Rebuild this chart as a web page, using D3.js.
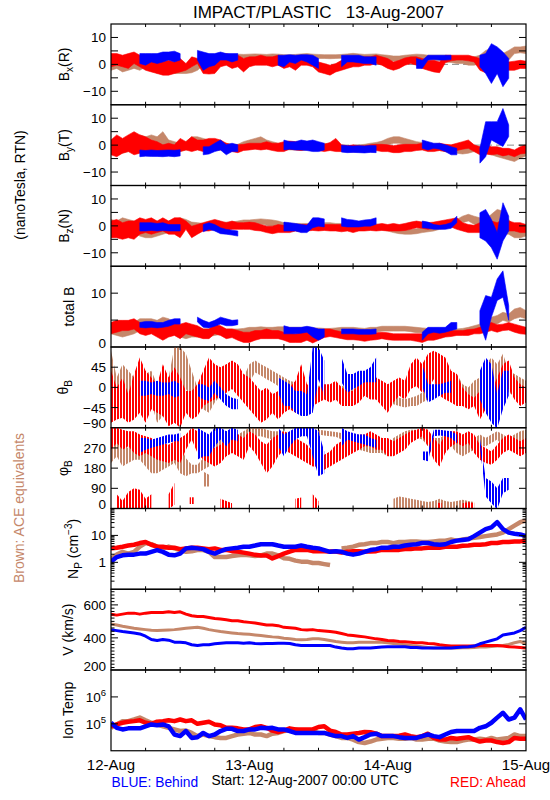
<!DOCTYPE html>
<html><head><meta charset="utf-8">
<script src="https://cdn.jsdelivr.net/npm/d3@7"></script>
<style>
body{margin:0;background:#fff;}
svg{display:block;font-family:"Liberation Sans",Arial,sans-serif;}
</style>
</head><body>
<svg id="c" width="550" height="800"></svg>
<script>
const n = null;
// ---------- axis text ----------
const titleText = "IMPACT/PLASTIC   13-Aug-2007";
const dayLabels = ["12-Aug","13-Aug","14-Aug","15-Aug"];
const footLeft = "BLUE: Behind", footMid = "Start: 12-Aug-2007 00:00 UTC", footRight = "RED: Ahead";
const unitLabel = "(nanoTesla, RTN)", aceLabel = "Brown: ACE equivalents";
const bTicks = [-10,-5,0,5,10], bLabels = [-10,0,10];
const btTicks = [5,10], btLabels = [0,10];
const thTicks = [-45,0,45], thLabels = [-90,-45,0,45];
const phTicks = [90,180,270], phLabels = [0,90,180,270];
const npTicks = [1,10], npLabels = [1,10];
const vTicks = [400,600], vLabels = [200,400,600];
const tTicks = [1e5,1e6], tLabels = [1e5,1e6];

// ---------- data, hourly samples from 12-Aug-2007 00:00 UTC (73 per series) ----------
// Bx (nT): hi / lo envelope
const bxRedHi=[3.7,3.7,3.1,3.7,4.3,3.1,2.5,1.9,1.2,0.6, 1.2,0.6,1.9,0,2.5,1.9,0,-0.6,0.6,3.1, 3.7,3.1,3.1,1.9,2.5,2.5,3.1,2.5,2.5,3.1, 1.9,2.5,1.9,3.1,2.5,1.9,0.6,0,-0.6,0, 1.2,1.9,1.9,1.9,2.5,2.5,3.1,2.5,1.9,0.6, 1.2,2.1,2.5,2.5,1.9,1.2,1.2,0.6,3.1,3.1, 3.1,3.1,3.1,2.5,1.9,0.6,0,0,1.2,0.6, 0.9,1.2,0.9];
const bxRedLo=[-0.6,0,-0.6,-1.2,0.6,-0.6,-1.9,-2.5,-3.1,-3.7, -3.7,-3.1,-2.5,-1.9,-0.6,0.6,-3.1,-3.3,-3.1,-0.6, 0,-1.2,-0.6,-2.5,-0.6,0,0,0,-0.6,0, -1.2,-0.6,-1.9,0,0,-0.6,-2.5,-3.1,-3.7,-2.5, -1.9,-1.2,-0.6,-0.6,0,0,0.6,0,-1.2,-1.9, -1.2,0,0.6,0,-1.2,-1.9,-2.5,-2.8,0.9,1.6, 1.9,1.9,1.6,1.2,-1.9,-2.8,-3.7,-3.1,-2.5,-1.9, -1.9,-1.2,-1.2];
const bxBlueHi=[n,n,n,n,n,3.7,3.7,3.7,3.7,4.3, 4.3,4.6,3.7,n,n,4.9,4.3,3.7,3.7,4.3, 3.7,3.7,3.7,n,n,n,n,n,n,3.1, 3.1,3.3,3.1,3.3,3.3,3.1,1.9,n,n,n, 3.1,3.1,3.1,3.1,2.5,2.5,2.5,n,n,n, n,n,n,1.9,1.2,3.1,3.1,3.1,3.1,3.1, n,n,n,n,3.1,3.7,7.4,6.2,4.3,1.9, n,n,n];
const bxBlueLo=[n,n,n,n,n,0.6,0,1.2,0.6,1.2, 1.9,1.2,1.9,n,n,1.9,-1.9,-0.6,0,1.9, 1.9,1.2,1.9,n,n,n,n,n,n,0, -0.6,1.2,0.6,1.9,1.2,0,-1.2,n,n,n, -0.6,1.2,1.2,0.9,0.6,0.6,0,n,n,n, n,n,n,-1.2,-1.2,1.9,2.1,1.9,1.9,2.1, n,n,n,n,-0.6,-3.1,-6.8,-3.1,-8.0,-4.9, n,n,n];
const bxBrownHi=[1.2,1.9,1.2,1.9,2.5,1.9,2.5,1.9,1.2,1.9, 0.6,0,-0.6,-1.2,-1.2,0.6,3.1,3.1,3.3,3.3, 3.4,3.3,3.5,3.4,3.5,3.6,3.5,3.4,3.6,3.5, 3.3,3.3,3.4,3.6,3.7,3.5,3.4,3.3,3.3,3.3, 3.4,3.6,3.8,3.6,3.4,3.5,3.6,3.3,3.1,2.8, 2.8,3.1,3.3,3.5,3.4,3.1,3.1,3.1,3.1,2.8, 2.5,2.5,1.9,2.5,3.1,4.9,5.6,5.6,3.7,4.9, 6.2,6.2,6.5];
const bxBrownLo=[-1.9,-1.2,-2.5,-1.9,-1.2,-1.9,-0.6,-1.2,-3.1,-1.9, -2.5,-3.1,-3.1,-3.1,-2.8,-1.9,0,1.9,2.1,2.3, 2.5,2.5,2.6,2.6,2.7,2.7,2.6,2.5,2.7,2.6, 2.5,2.4,2.5,2.6,2.7,2.6,2.5,2.5,2.4,2.5, 2.6,2.7,2.8,2.6,2.5,2.6,2.6,2.3,1.9,1.5, 1.6,2.1,2.3,2.5,2.4,2.1,1.9,1.6,1.2,1.0, 0.6,0.6,0,0,0.6,1.9,1.2,0.6,0,1.9, 4.3,4.6,4.3];
// By (nT)
const byRedHi=[1.6,3.5,2.2,3.5,4.7,3.5,2.8,1.6,1.0,-0.2, 0.4,-0.2,2.2,1.0,2.8,1.6,1.6,2.2,2.2,1.6, 0.4,-0.2,-0.2,0,0.4,0.4,0.4,1.0,0.4,0.4, 1.0,1.2,1.0,1.0,0.7,0.7,0.4,0,0.7,2.2, -0.2,-0.5,-0.2,-0.5,-0.5,-0.2,0,0,-0.2,-0.5, -0.2,0,0,0,0.4,0.4,0,0.4,0,-0.2, 0.4,1.0,1.6,-0.2,-0.9,-0.2,-0.9,-0.9,-1.5,-1.5, -2.1,-0.9,-0.2];
const byRedLo=[-3.3,-4.0,-2.7,-2.1,-3.3,-2.7,-2.1,-2.7,-2.1,-2.7, -2.7,-2.7,-2.1,-1.5,-2.1,-1.5,-2.1,-2.1,-1.5,-1.5, -2.1,-2.1,-2.5,-1.7,-1.5,-1.2,-1.5,-1.2,-1.7,-2.1, -2.1,-1.2,-1.5,-1.7,-1.2,-1.5,-1.7,-2.1,-1.7,-2.1, -2.1,-2.1,-2.2,-2.1,-2.1,-2.1,-1.7,-2.1,-2.1,-2.5, -2.5,-2.1,-2.1,-1.7,-1.5,-2.1,-2.1,-1.7,-2.1,-2.5, -1.7,-1.2,-0.9,-2.1,-3.3,-3.0,-3.3,-3.0,-3.7,-3.3, -4.0,-3.0,-2.7];
const byBlueHi=[n,n,n,n,n,-2.1,-2.3,-2.1,-2.3,-2.2, -2.1,-2.2,-2.0,n,n,n,-0.9,-0.9,0.4,1.6, -0.2,0.4,-0.2,n,n,n,n,n,n,n, 1.6,1.0,1.0,1.6,1.2,1.6,1.0,0.4,n,n, -0.3,-0.5,-0.6,-0.5,-0.6,-0.4,-0.5,n,n,n, n,n,n,n,1.6,1.0,0.4,0.4,-0.2,-0.9, -1.5,n,n,n,-1.5,8.4,8.4,8.4,13.3,7.2, n,n,n];
const byBlueLo=[n,n,n,n,n,-4.0,-3.8,-3.9,-3.9,-4.0, -3.8,-4.0,-3.7,n,n,n,-3.3,-3.0,-2.1,-1.5, -3.3,-2.1,-2.1,n,n,n,n,n,n,n, -1.5,-1.2,-1.5,-1.5,-1.7,-2.1,-2.1,-1.5,n,n, -2.3,-2.5,-2.4,-2.5,-2.6,-2.4,-2.5,n,n,n, n,n,n,n,-0.9,-1.5,-0.9,-1.2,-2.1,-3.3, -3.3,n,n,n,-6.4,-4.0,2.2,1.0,-0.2,3.5, n,n,n];
const byBrownHi=[-0.2,0.4,1.6,2.2,2.8,3.5,2.8,3.5,2.8,4.7, 1.6,1.0,0.4,1.0,2.8,2.8,2.2,1.6,1.0,0.4, 0.4,0,0,1.0,1.6,2.2,2.8,1.6,1.0,0.4, 0.4,0,0,-0.2,0,0,-0.2,0.4,0,-0.2, -0.5,-0.5,-0.5,-0.2,0,0.4,0.7,1.2,2.2,2.8, 2.8,2.2,1.6,1.0,0.7,0.4,0,-0.2,-0.5,-0.9, -1.2,-1.5,-1.2,-0.9,-0.9,-1.2,-1.5,-2.1,-2.7,-3.3, -2.7,-2.1,-1.5];
const byBrownLo=[-3.3,-2.7,-2.7,-2.1,-2.1,-1.5,-2.1,-0.9,-1.5,-1.5, -2.1,-2.1,-2.1,-1.5,-0.9,-0.2,-0.5,-0.9,-1.5,-1.5, -1.2,-1.5,-1.2,-0.9,-0.5,0,0.4,-0.5,-0.9,-1.2, -1.2,-1.5,-1.5,-1.7,-1.5,-1.5,-1.7,-1.5,-1.5,-1.7, -2.0,-2.0,-2.0,-1.5,-1.2,-1.2,-0.9,-0.5,0.4,1.0, 1.0,0.4,-0.2,-0.5,-0.9,-1.2,-1.5,-1.7,-2.1,-2.5, -2.7,-3.0,-2.7,-2.1,-2.5,-2.7,-3.3,-4.0,-4.6,-5.2, -5.8,-4.6,-3.7];
// Bz (nT)
const bzRedHi=[1.5,2.1,0.9,1.5,1.5,2.7,2.1,2.7,1.5,2.7, 1.5,2.7,2.7,1.5,-0.4,0.2,0.9,1.5,2.1,1.5, 0.9,1.5,0.9,0.9,1.1,0.9,0.2,-0.4,-0.4,0.2, -0.1,0.2,0.2,0.2,0.2,0.9,0.2,0.2,0.2,0.2, 0.2,0.2,-0.1,0.2,0.2,0.6,0.2,0.6,0.2,0.6, 0.2,0.6,1.1,1.5,1.1,0.9,1.1,1.5,1.9,2.3, 2.7,0.9,0.2,-0.1,0.9,1.5,1.5,0.9,2.1,1.5, 0.9,0.9,0.2];
const bzRedLo=[-4.1,-4.1,-4.7,-4.1,-4.7,-2.8,-2.2,-2.8,-2.2,-1.6, -2.8,-2.8,-4.1,-1.0,-4.1,-2.8,-1.6,-1.6,-1.0,-1.0, -1.6,-1.0,-1.0,-1.0,-1.0,-1.4,-1.6,-2.2,-2.6,-2.2, -2.2,-2.2,-1.6,-1.9,-1.6,-1.4,-1.6,-1.4,-1.6,-1.6, -1.9,-1.6,-2.2,-1.6,-1.6,-1.4,-1.6,-1.4,-1.6,-1.6, -1.6,-1.4,-1.0,-0.4,-0.6,-1.0,-0.6,-0.4,-0.1,-0.1, -1.0,-1.6,-2.2,-2.2,-2.2,-2.2,-1.6,-2.2,-1.0,-1.6, -1.6,-2.2,-2.2];
const bzBlueHi=[n,n,n,n,n,0.9,0.9,0.9,0.6,0.9, 0.2,0.2,0.2,n,n,n,0.2,0.9,0.2,-1.0, -1.6,-1.9,-2.2,n,n,n,n,n,n,n, 1.1,0.9,0.6,0.2,-0.1,2.7,2.7,2.3,n,n, 2.7,2.1,1.9,1.5,1.9,2.1,2.7,n,n,n, n,n,n,n,1.5,1.1,0.2,-0.1,0.2,0.9, 3.3,n,n,n,4.6,5.8,2.1,-2.8,8.3,3.3, n,n,n];
const bzBlueLo=[n,n,n,n,n,-1.6,-1.6,-1.4,-1.6,-1.4, -1.6,-1.6,-1.6,n,n,n,-1.9,-1.0,-1.6,-2.6, -2.8,-3.1,-3.5,n,n,n,n,n,n,n, -1.6,-1.6,-1.6,-2.2,-2.2,-0.4,0.2,-0.1,n,n, 0.2,-0.1,-0.1,-0.1,0.2,0.2,0.9,n,n,n, n,n,n,n,-0.4,-0.6,-1.0,-1.0,-1.0,-0.6, 1.5,n,n,n,-4.1,-5.3,-7.8,-12.1,-5.3,-1.6, n,n,n];
const bzBrownHi=[2.1,1.5,2.7,2.1,1.5,0.2,-0.4,-1.0,-0.4,0.2, 1.5,2.1,2.7,2.1,1.1,0.9,0.6,0.9,0.9,0.9, 1.1,1.1,1.5,1.9,1.9,2.1,2.3,2.1,1.9,1.5, 0.9,0.6,0.6,0.6,0.6,0.6,0.6,0.9,0.9,0.6, 0.6,0.6,0.6,0.6,0.6,0.6,0.4,0.2,-0.4,-1.0, -1.4,-1.6,-1.6,-1.4,-1.0,-0.4,-0.1,0.2,0.9,1.5, 2.1,3.3,4.0,3.3,2.7,2.1,4.0,5.8,5.2,2.1, -0.4,-1.6,-0.4];
const bzBrownLo=[-2.8,-2.8,-1.6,-1.6,-2.2,-3.5,-4.1,-4.1,-3.5,-2.8, -2.2,-1.6,0.2,-0.4,-1.0,-1.4,-1.4,-1.0,-1.0,-0.6, -0.4,-0.1,-0.1,0.2,0.2,0.6,0.9,0.6,0.2,-0.1, -0.4,-0.6,-0.6,-0.6,-0.6,-0.6,-0.6,-0.4,-0.4,-0.6, -0.6,-0.6,-0.6,-0.6,-0.6,-0.7,-1.0,-1.1,-1.6,-2.2, -2.6,-2.8,-2.8,-2.6,-2.2,-1.9,-1.6,-1.0,-0.6,-0.1, 0.2,1.5,2.1,0.9,-0.4,-1.6,-1.6,-0.4,-2.8,-2.8, -4.1,-4.1,-3.5];
// total B (nT)
const btRedHi=[4.4,4.8,4.8,4.8,5.1,4.4,4.1,4.4,4.1,3.8, 4.4,4.4,4.1,4.4,4.1,3.8,3.2,3.2,4.1,3.8, 3.2,3.2,2.9,2.6,2.6,2.9,2.9,3.2,2.9,2.9, 2.6,2.6,2.3,2.6,2.6,2.3,2.6,3.2,3.2,2.9, 2.7,2.6,2.6,2.5,2.3,2.3,2.5,2.6,2.5,2.3, 2.3,2.3,2.3,2.3,2.3,2.6,2.7,2.7,2.7,2.9, 2.9,2.9,3.1,3.2,3.5,4.1,4.4,4.0,4.1,4.4, 4.1,3.8,3.5];
const btRedLo=[2.6,2.9,3.2,3.2,3.5,2.6,2.3,2.6,2.0,1.4, 2.0,2.3,1.7,2.6,2.3,2.0,1.7,1.7,2.6,2.3, 1.7,1.9,1.4,1.0,1.0,1.4,1.7,1.7,1.7,1.7, 1.4,1.0,1.0,1.0,1.4,0.9,1.4,1.9,2.1,1.9, 1.7,1.5,1.5,1.4,1.2,1.4,1.5,1.7,1.5,1.4, 1.4,1.4,1.4,1.2,1.0,1.4,1.4,1.7,2.0,2.1, 2.3,2.3,2.3,2.6,2.6,2.9,3.2,2.9,3.2,3.3, 2.9,2.6,2.5];
const btBlueHi=[n,n,n,n,n,4.4,4.6,4.6,4.4,4.4, 4.8,5.1,5.1,n,n,5.4,4.8,4.4,4.8,5.4, 5.1,4.8,4.9,n,n,n,n,n,n,n, 3.8,3.5,3.5,3.5,3.7,3.5,3.2,3.2,n,n, 3.2,3.2,3.2,3.1,3.1,3.1,3.2,n,n,n, n,n,n,n,2.6,3.5,3.5,3.5,3.5,4.4, 4.4,n,n,n,6.6,9.4,9.1,12.5,14.0,7.5, n,n,n];
const btBlueLo=[n,n,n,n,n,3.8,3.7,3.8,3.7,3.8, 4.0,4.4,4.4,n,n,4.8,3.8,3.7,4.0,4.4, 4.1,4.1,4.3,n,n,n,n,n,n,n, 2.6,2.6,2.6,2.7,2.9,2.0,1.4,2.0,n,n, 2.6,2.6,2.6,2.5,2.5,2.5,2.6,n,n,n, n,n,n,n,1.4,2.6,2.9,2.7,2.9,3.2, 3.5,n,n,n,4.4,1.4,5.7,8.8,9.4,5.1, n,n,n];
const btBrownHi=[4.4,3.8,3.8,4.4,4.4,5.1,5.1,5.1,4.8,5.4, 5.1,4.4,3.8,3.2,3.2,3.5,3.2,3.2,3.2,3.3, 3.2,3.2,3.2,3.3,3.5,3.5,3.6,3.5,3.5,3.6, 3.6,3.5,3.5,3.5,3.5,3.4,3.4,3.3,3.3,3.4, 3.5,3.5,3.5,3.4,3.3,3.5,3.5,3.7,3.7,3.7, 3.7,3.7,3.6,3.5,3.4,3.3,3.3,3.2,3.2,3.2, 3.2,3.3,3.5,3.8,4.1,4.4,5.4,5.7,6.3,6.0, 6.9,7.2,6.6];
const btBrownLo=[2.6,2.3,2.0,2.3,2.6,3.2,3.8,3.8,3.8,4.1, 3.8,2.9,2.0,1.7,2.0,2.0,2.0,2.1,2.3,2.5, 2.5,2.5,2.6,2.7,2.8,2.9,3.0,2.9,2.9,3.0, 3.0,2.9,2.8,2.8,2.8,2.8,2.8,2.7,2.7,2.8, 2.8,2.9,2.8,2.8,2.7,2.8,2.9,3.1,3.1,3.1, 3.1,3.1,3.0,2.8,2.8,2.7,2.7,2.6,2.6,2.6, 2.6,2.7,2.9,3.2,3.3,3.5,4.4,4.4,5.1,4.8, 5.4,5.7,5.4];
// theta_B (deg)
const thRedHi=[35,-2,20,-17,28,65,35,20,5,50, 20,43,20,-10,-10,5,35,65,50,43, 50,58,50,28,20,5,-10,-2,-17,-10, -17,-2,13,50,5,-2,-2,5,5,13, -2,-10,-10,5,20,13,20,13,5,13, 20,13,50,65,50,73,80,73,65,35, 28,-2,-17,-25,-10,5,-10,20,50,58, 20,5,-2];
const thRedLo=[-77,-70,-66,-77,-70,-55,-77,-47,-55,-62, -85,-77,-88,-55,-70,-62,-40,-32,-25,-17, -10,-2,-17,-32,-47,-62,-77,-70,-55,-70, -55,-47,-55,-47,-32,-40,-32,-25,-32,-25, -40,-40,-40,-32,-17,-25,-25,-40,-55,-32, -17,-25,-2,5,-10,-2,20,-17,-25,-32, -40,-40,-47,-40,-70,-47,-55,-40,-17,-2, -25,-40,-32];
const thBlueHi=[n,n,n,n,n,13,13,9,13,9, 9,13,5,n,n,5,5,-2,13,-2, -17,-25,-28,n,n,n,n,n,n,20, 13,5,-10,-10,-17,88,88,58,n,n, 65,28,28,35,35,43,65,n,n,n, n,n,n,n,50,5,5,5,9,13, n,n,n,n,35,65,50,-17,35,35, n,n,n];
const thBlueLo=[n,n,n,n,n,-17,-17,-13,-17,-17, -13,-21,-17,n,n,-17,-25,-28,-10,-25, -40,-47,-47,n,n,n,n,n,n,-10, -40,-40,-55,-62,-62,-55,20,-17,n,n, 13,-10,-2,5,13,13,13,n,n,n, n,n,n,n,5,-32,-25,-17,-10,-10, n,n,n,n,-25,-55,-77,-90,-47,-17, n,n,n];
const thBrownHi=[80,20,50,35,20,58,28,35,5,-2, 20,88,88,73,35,-2,-10,-17,-2,20, 50,50,35,20,50,58,50,43,35,28, 20,13,9,5,2,2,2,2,2,2, 2,-2,-2,2,-2,-2,-10,-13,-17,-21, -25,-28,-25,-21,-13,-10,5,20,5,13, 28,5,-2,13,20,50,65,50,73,35, 28,20,13];
const thBrownLo=[-77,-55,-40,-55,-70,-25,-40,-32,-77,-62, -55,-47,-17,-2,-25,-40,-47,-55,-32,-17, -2,13,-17,-17,13,35,28,20,13,5, 2,-2,-6,-10,-13,-10,-10,-10,-10,-10, -10,-13,-13,-10,-13,-17,-25,-28,-32,-36, -40,-43,-40,-40,-32,-25,-17,-10,-17,-17, -10,-32,-40,-32,-17,-2,5,-2,13,-10, -17,-10,-17];
// phi_B (deg); "Wrap" arrays hold the samples that sit near 0 deg
const phRedHi=[356,356,348,341,341,326,318,311,296,289, 281,296,311,326,356,341,311,281,266,281, 311,341,326,311,341,326,296,281,311,326, 341,326,311,296,281,251,236,236,251,281, 296,311,311,326,326,341,326,311,311,296, 311,326,341,348,356,348,311,281,326,341, 341,326,341,326,281,266,251,281,311,326, 311,296,311];
const phRedLo=[266,296,266,281,251,236,251,236,221,214, 206,221,206,266,311,251,221,206,191,206, 236,251,236,221,281,251,206,161,191,236, 266,251,236,221,206,191,191,176,191,206, 221,236,251,266,281,281,266,266,236,236, 251,266,296,311,326,281,221,191,251,281, 296,281,296,251,221,206,199,221,251,266, 251,236,251];
const phRedWrapHi=[n,60,30,70,87,80,40,60,n,n, 60,110,n,n,50,n,n,n,n,40, 30,20,n,n,n,n,n,n,n,n, n,n,40,45,n,60,30,n,n,n, n,n,n,n,n,n,n,n,n,n, n,n,n,n,n,n,n,25,n,n, n,20,25,20,n,n,n,n,n,n, n,n,n];
const phRedWrapLo=[n,0,0,0,0,0,0,0,n,n, 0,20,n,n,20,n,n,n,n,0, 0,0,n,n,n,n,n,n,n,n, n,n,0,0,n,0,0,n,n,n, n,n,n,n,n,n,n,n,n,n, n,n,n,n,n,n,n,0,n,n, n,0,0,0,n,n,n,n,n,n, n,n,n];
const phBlueHi=[n,n,n,n,n,311,311,303,311,318, 326,326,333,n,n,356,341,326,356,356, 341,356,348,n,n,n,n,n,n,356, 326,341,356,356,356,356,341,251,n,n, 356,341,333,326,326,311,303,n,n,n, n,n,n,n,251,251,348,348,344,341, 326,n,n,n,311,132,117,87,132,132, n,n,n];
const phBlueLo=[n,n,n,n,n,251,266,274,281,289, 296,303,303,n,n,221,236,236,281,311, 281,311,303,n,n,n,n,n,n,281, 236,281,311,326,326,236,147,161,n,n, 281,311,303,296,289,281,274,n,n,n, n,n,n,n,221,214,326,329,326,318, 296,n,n,n,281,57,27,0,72,87, n,n,n];
const phBrownHi=[326,311,281,266,281,281,251,236,236,251, 266,281,281,221,191,191,221,251,296,326, 341,341,326,341,356,356,356,348,341,341, 341,333,341,348,348,348,348,344,341,338, 333,326,311,296,289,281,281,281,281,311, 326,341,348,348,341,326,311,311,326,341, 311,296,296,311,326,311,326,341,326,311, 326,341,348];
const phBrownLo=[206,236,191,206,221,221,191,161,161,176, 191,206,161,147,161,161,176,191,236,266, 296,296,281,296,311,326,326,318,311,303, 296,296,311,326,333,333,333,329,326,323, 311,296,281,266,259,251,251,251,236,251, 266,281,311,318,311,281,266,251,266,281, 251,236,251,266,281,281,296,311,281,266, 281,296,311];
const phBrownWrapHi=[n,n,n,n,n,n,n,n,n,n, n,n,n,n,n,n,161,147,n,n, n,n,n,n,n,n,n,n,n,n, n,n,n,n,n,n,n,n,n,n, n,n,n,n,n,n,n,n,n,40, 50,45,40,35,30,25,30,40,30,25, 30,35,30,25,n,n,n,n,n,n, n,n,n];
const phBrownWrapLo=[n,n,n,n,n,n,n,n,n,n, n,n,n,n,n,n,102,102,n,n, n,n,n,n,n,n,n,n,n,n, n,n,n,n,n,n,n,n,n,n, n,n,n,n,n,n,n,n,n,0, 0,0,0,0,0,0,0,0,0,0, 0,0,0,0,n,n,n,n,n,n, n,n,n];
// proton density (cm^-3)
const npRed=[3.3,3.5,3.8,4.2,4.5,5.2,5.7,4.5,3.8,3.8, 3.5,3.5,3.1,3.3,3.5,3.5,3.3,3.1,3.3,2.9, 2.9,2.6,2.5,2.3,2.1,1.9,1.8,1.8,1.4,1.7, 2.1,2.5,2.9,2.9,2.9,2.6,2.6,2.6,2.5,2.5, 2.3,2.5,2.6,2.6,2.5,2.5,2.6,2.9,2.9,2.9, 2.9,3.1,3.1,3.3,3.3,3.5,3.5,3.5,3.8,3.8, 3.8,4.1,4.2,4.5,4.5,4.7,5.2,5.2,5.7,5.7, 6.0,6.0,6.4];
const npBlue=[1.06,1.57,1.82,1.93,1.93,2.11,2.11,2.45,2.85,2.45, 1.93,1.82,2.11,3.3,3.5,3.3,3.1,2.45,2.11,2.6, 3.1,3.3,3.5,3.8,3.8,4.2,4.7,4.7,4.7,4.2, 3.8,3.8,3.8,4.2,3.8,3.5,3.3,2.85,2.45,2.6, 2.45,2.11,1.93,2.11,2.45,2.85,3.1,3.5,3.5,3.8, 3.8,4.2,4.5,4.7,5.2,5.2,4.7,4.5,4.7,5.7, 6.4,6.8,7.2,9.4,12.7,17.1,19.9,31,17.1,12.7, 11.6,10.9,9.4];
const npBrown=[1.35,1.93,2.45,2.11,2.45,3.84,5.18,4.73,3.84,3.3, 3.84,3.3,2.85,2.45,2.6,2.85,2.85,2.45,1.57,1.57, 1.57,1.71,1.82,1.93,1.82,1.71,1.82,2.11,2.11,1.82, 1.43,1.35,1.16,1.06,1.06,0.94,0.94,0.86,0.79,n, 3.3,3.51,3.84,4.46,4.73,5.18,5.18,5.66,5.66,5.18, 5.66,5.66,6.0,6.0,5.66,5.66,6.0,6.4,6.4,7.0, 6.4,7.0,7.6,8.1,8.7,9.4,10.1,10.9,12.7,17.1, 23.2,31,36];
// bulk speed (km/s)
const vRed=[544,538,544,550,550,544,550,554,554,554, 558,554,558,544,534,530,530,524,518,514, 510,504,504,498,494,490,484,478,478,474, 464,462,458,450,448,450,444,442,438,434, 426,418,414,410,406,400,394,390,384,382, 378,376,374,370,370,366,364,358,354,350, 350,350,350,350,354,354,354,354,350,346, 344,342,338];
const vBlue=[450,444,438,434,430,424,410,390,384,390, 386,374,374,370,358,354,358,358,364,368, 370,370,370,368,370,366,364,366,366,368, 368,366,358,354,354,354,354,354,354,344, 338,334,334,338,338,338,342,344,346,346, 346,346,342,342,338,338,338,338,338,338, 342,344,346,350,364,374,384,394,418,424, 430,444,464];
const vBrown=[484,478,470,464,458,454,450,446,444,446, 448,450,454,458,462,464,458,450,444,438, 434,430,426,424,422,418,414,410,406,404, 398,394,390,388,390,394,394,390,384,378, 374,370,370,374,374,374,374,374,370,366, 362,358,354,350,346,342,338,338,338,338, 338,340,340,342,344,344,348,350,354,360, 370,378,364];
// ion temperature (K)
const tRed=[8.1e4,9.5e4,1.1e5,1.2e5,1.26e5,1.35e5,1.1e5,1.0e5,1.2e5,1.26e5, 1.35e5,1.26e5,1.45e5,1.26e5,1.35e5,1.0e5,1.1e5,1.2e5,9.5e4,8.9e4, 7.1e4,7.1e4,6.8e4,6.2e4,6.2e4,7.6e4,8.1e4,7.1e4,5.6e4,5.0e4, 5.6e4,6.8e4,6.2e4,6.2e4,6.2e4,6.2e4,7.6e4,8.1e4,5.6e4,5.0e4, 4.0e4,4.0e4,4.3e4,4.6e4,5.0e4,4.9e4,4.3e4,3.5e4,3.5e4,3.5e4, 3.6e4,4.0e4,3.5e4,3.2e4,3.5e4,4.3e4,3.0e4,2.6e4,2.6e4,3.0e4, 2.8e4,3.0e4,3.2e4,2.6e4,2.2e4,2.4e4,2.4e4,2.1e4,1.95e4,2.1e4, 3.0e4,2.8e4,2.8e4];
const tBlue=[1.1e5,7.1e4,6.2e4,6.8e4,6.8e4,6.8e4,8.1e4,9.5e4,8.9e4,9.5e4, 8.1e4,4.0e4,3.5e4,5.4e4,3.0e4,3.2e4,4.6e4,3.5e4,4.0e4,5.4e4, 6.5e4,6.5e4,5.4e4,5.4e4,6.2e4,6.2e4,7.1e4,6.8e4,7.1e4,6.2e4, 6.2e4,5.4e4,4.6e4,4.6e4,4.6e4,4.6e4,4.6e4,4.6e4,4.0e4,3.5e4, 3.5e4,3.0e4,3.5e4,2.6e4,3.2e4,4.0e4,4.3e4,3.5e4,3.5e4,3.5e4, 3.2e4,3.0e4,3.0e4,3.0e4,3.5e4,4.0e4,3.5e4,3.2e4,4.0e4,5.0e4, 5.4e4,5.4e4,5.4e4,5.4e4,7.1e4,8.1e4,1.1e5,1.7e5,2.57e5,1.45e5, 1.7e5,3.47e5,1.45e5];
const tBrown=[7.1e4,9.5e4,1.26e5,1.26e5,1.45e5,1.7e5,1.35e5,1.1e5,9.5e4,8.1e4, 7.1e4,6.2e4,5.4e4,5.6e4,4.6e4,3.5e4,4.0e4,3.5e4,3.2e4,3.0e4, 3.0e4,3.5e4,4.0e4,4.3e4,4.6e4,4.0e4,4.0e4,3.5e4,4.3e4,4.6e4, 5.4e4,5.6e4,6.2e4,5.4e4,5.6e4,5.4e4,4.6e4,4.6e4,4.0e4,3.5e4, 3.0e4,3.0e4,2.6e4,2.1e4,1.95e4,2.2e4,2.6e4,2.8e4,3.0e4,3.0e4, 2.8e4,2.8e4,3.0e4,2.6e4,2.6e4,2.8e4,2.8e4,2.4e4,2.2e4,2.1e4, 2.1e4,2.4e4,2.6e4,2.6e4,2.8e4,2.6e4,3.0e4,2.6e4,2.8e4,3.0e4, 4.0e4,3.5e4,3.5e4];

// ---------- layout ----------
const RED="#ff0000", BLUE="#0000ff", BROWN="#c5876a";
const L=111, R=526, TOP=24, PH=80.75;
const svg=d3.select("#c");
const start=Date.UTC(2007,7,12);
const hours=d3.range(bxRedHi.length);
const x=d3.scaleUtc().domain([new Date(start), new Date(start+72*3600e3)]).range([L,R]);
const xt=i=>x(new Date(start+i*3600e3));

const defs=svg.append("defs");
[["red",RED],["blue",BLUE],["brown",BROWN]].forEach(([k,c])=>{
  const p=defs.append("pattern").attr("id","st-"+k).attr("patternUnits","userSpaceOnUse")
    .attr("width",3).attr("height",3);
  p.append("rect").attr("width",2).attr("height",3).attr("fill",c);
});

const panels=[
 {y:d3.scaleLinear().domain([-15,15]), ticks:bTicks, labels:bLabels, zero:true,
  bands:[[bxBrownHi,bxBrownLo,BROWN,"brown"],[bxRedHi,bxRedLo,RED,"red"],[bxBlueHi,bxBlueLo,BLUE,"blue"]]},
 {y:d3.scaleLinear().domain([-15,15]), ticks:bTicks, labels:bLabels, zero:true,
  bands:[[byBrownHi,byBrownLo,BROWN,"brown"],[byRedHi,byRedLo,RED,"red"],[byBlueHi,byBlueLo,BLUE,"blue"]]},
 {y:d3.scaleLinear().domain([-15,15]), ticks:bTicks, labels:bLabels, zero:true,
  bands:[[bzBrownHi,bzBrownLo,BROWN,"brown"],[bzRedHi,bzRedLo,RED,"red"],[bzBlueHi,bzBlueLo,BLUE,"blue"]]},
 {y:d3.scaleLinear().domain([0,15]), ticks:btTicks, labels:btLabels,
  bands:[[btBrownHi,btBrownLo,BROWN,"brown"],[btRedHi,btRedLo,RED,"red"],[btBlueHi,btBlueLo,BLUE,"blue"]]},
 {y:d3.scaleLinear().domain([-90,90]), ticks:thTicks, labels:thLabels, striped:true,
  bands:[[thBrownHi,thBrownLo,BROWN,"brown"],[thRedHi,thRedLo,RED,"red"],[thBlueHi,thBlueLo,BLUE,"blue"]]},
 {y:d3.scaleLinear().domain([0,360]), ticks:phTicks, labels:phLabels, striped:true,
  bands:[[phBrownHi,phBrownLo,BROWN,"brown"],[phBrownWrapHi,phBrownWrapLo,BROWN,"brown"],[phRedHi,phRedLo,RED,"red"],[phRedWrapHi,phRedWrapLo,RED,"red"],[phBlueHi,phBlueLo,BLUE,"blue"]]},
 {y:d3.scaleLog().domain([0.1,100]), ticks:npTicks, labels:npLabels, minor:true,
  lines:[[npBrown,BROWN,4.5],[npRed,RED,4.5],[npBlue,BLUE,4.5]]},
 {y:d3.scaleLinear().domain([205,695]), ticks:vTicks, labels:vLabels, minorStep:20,
  lines:[[vBrown,BROWN,3],[vRed,RED,3],[vBlue,BLUE,3]]},
 {y:d3.scaleLog().domain([1e4,1e7]), ticks:tTicks, labels:tLabels, pow:true,
  lines:[[tBrown,BROWN,4.5],[tRed,RED,4.5],[tBlue,BLUE,4.5]]}
];

const fmt=v=>(v<0?"\u2212":"")+Math.abs(v);

panels.forEach((p,k)=>{
  const top=TOP+k*PH, bot=top+PH;
  p.y.range([bot,top]);
  const y=p.y;
  const g=svg.append("g");
  const cid="clip"+k;
  defs.append("clipPath").attr("id",cid).append("rect").attr("x",L).attr("y",top).attr("width",R-L).attr("height",PH);
  const plot=g.append("g").attr("clip-path",`url(#${cid})`);
  if(p.zero){
    plot.append("line").attr("x1",L).attr("x2",R).attr("y1",y(0)).attr("y2",y(0))
      .attr("stroke","#8c8c8c").attr("stroke-width",1).attr("stroke-dasharray","7,4");
  }
  if(p.bands){
    p.bands.forEach(([hi,lo,c,key])=>{
      const ok=i=>i>=0&&i<hours.length&&hi[i]!=null&&lo[i]!=null;
      const fill=p.striped?`url(#st-${key})`:c;
      const area=d3.area().defined(ok).x(i=>xt(i))
        .y0(i=>y(lo[i])+0.8).y1(i=>y(hi[i])-0.8);
      plot.append("path").datum(hours).attr("d",area).attr("fill",fill)
        .attr("stroke",p.striped?"none":c).attr("stroke-width",0.6);
      plot.append("g").selectAll("rect")
        .data(hours.filter(i=>ok(i)&&!ok(i-1)&&!ok(i+1)))
        .join("rect")
        .attr("x",i=>xt(i)-2).attr("width",4)
        .attr("y",i=>y(hi[i])).attr("height",i=>Math.max(2,y(lo[i])-y(hi[i])))
        .attr("fill",fill);
    });
  }
  if(p.lines){
    p.lines.forEach(([arr,c,w])=>{
      plot.append("path").datum(hours)
        .attr("d",d3.line().defined(i=>arr[i]!=null).x(i=>xt(i)).y(i=>y(arr[i])))
        .attr("fill","none").attr("stroke",c).attr("stroke-width",w).attr("stroke-linejoin","round");
    });
  }
  g.append("rect").attr("x",L).attr("y",top).attr("width",R-L).attr("height",PH)
    .attr("fill","none").attr("stroke","#000").attr("stroke-width",1.2);
  const xticks=x.ticks(d3.utcHour.every(6)).filter(d=>x(d)>L+1&&x(d)<R-1);
  xticks.forEach(d=>{
    const len=d.getUTCHours()===0?4:3;
    g.append("line").attr("x1",x(d)).attr("x2",x(d)).attr("y1",top).attr("y2",top+len).attr("stroke","#000");
    g.append("line").attr("x1",x(d)).attr("x2",x(d)).attr("y1",bot).attr("y2",bot-len).attr("stroke","#000");
  });
  p.ticks.forEach(v=>{
    const yy=y(v);
    g.append("line").attr("x1",L).attr("x2",L+7).attr("y1",yy).attr("y2",yy).attr("stroke","#000");
    g.append("line").attr("x1",R).attr("x2",R-7).attr("y1",yy).attr("y2",yy).attr("stroke","#000");
  });
  let minors=[];
  if(p.minor){ [0.1,1,10].forEach(dd=>{for(let m=2;m<=9;m++) minors.push(dd*m);}); }
  if(p.minorStep){ for(let v=220; v<690; v+=p.minorStep) if(!p.ticks.includes(v)) minors.push(v); }
  minors.forEach(v=>{
    const yy=y(v);
    g.append("line").attr("x1",L).attr("x2",L+3.5).attr("y1",yy).attr("y2",yy).attr("stroke","#000");
    g.append("line").attr("x1",R).attr("x2",R-3.5).attr("y1",yy).attr("y2",yy).attr("stroke","#000");
  });
  p.labels.forEach(v=>{
    const yc=Math.min(y(v),bot-4.5);
    const t=g.append("text").attr("x",L-5).attr("y",yc+5).attr("text-anchor","end")
      .attr("font-size",13.5).attr("fill","#000");
    if(p.pow){
      t.text("10");
      t.append("tspan").attr("dy",-6).attr("font-size",9.5).text(Math.round(Math.log10(v)));
    } else t.text(fmt(v));
  });
});

function vlabel(xp, yc, parts, opt={}){
  const t=svg.append("text").attr("transform",`translate(${xp},${yc}) rotate(-90)`)
    .attr("text-anchor","middle").attr("font-size",opt.size||14).attr("fill",opt.color||"#000")
    .style("white-space","pre");
  parts.forEach(([s,kind])=>{
    const ts=t.append("tspan").text(s);
    if(kind==="sub") ts.attr("font-size",10).attr("dy",4);
    if(kind==="subend") ts.attr("dy",-4);
    if(kind==="sup") ts.attr("font-size",10).attr("dy",-6);
    if(kind==="supend") ts.attr("dy",6);
  });
  return t;
}
const pc=k=>TOP+k*PH+PH/2;
vlabel(69,pc(0),[["B"],["x","sub"],["(R)","subend"]]);
vlabel(69,pc(1),[["B"],["y","sub"],["(T)","subend"]]);
vlabel(69,pc(2),[["B"],["z","sub"],["(N)","subend"]]);
vlabel(74,pc(3),[["total B"]]);
vlabel(68,pc(4),[["\u03b8"],["B","sub"]]);
vlabel(68,pc(5),[["\u03c6"],["B","sub"]]);
vlabel(78,pc(6),[["N"],["P","sub"],[" (cm","subend"],["\u22123","sup"],[")","supend"]]);
vlabel(73,pc(7),[["V (km/s)"]]);
vlabel(73,pc(8),[["Ion Temp"]]);
vlabel(25,185,[[unitLabel]]);
vlabel(24,508,[[aceLabel]],{color:BROWN});

svg.append("text").attr("x",318.5).attr("y",18).attr("text-anchor","middle")
  .attr("font-size",17).style("white-space","pre").text(titleText);

const days=x.ticks(d3.utcDay.every(1));
days.forEach((d,i)=>{
  svg.append("text").attr("x",x(d)).attr("y",770).attr("text-anchor","middle")
    .attr("font-size",15).text(dayLabels[i]);
});
svg.append("text").attr("x",111.5).attr("y",787).attr("font-size",13.8).attr("fill",BLUE).text(footLeft);
svg.append("text").attr("x",211.5).attr("y",785).attr("font-size",13.8).attr("fill","#000").text(footMid);
svg.append("text").attr("x",450).attr("y",787).attr("font-size",13.8).attr("fill",RED).text(footRight);
</script>
</body></html>
